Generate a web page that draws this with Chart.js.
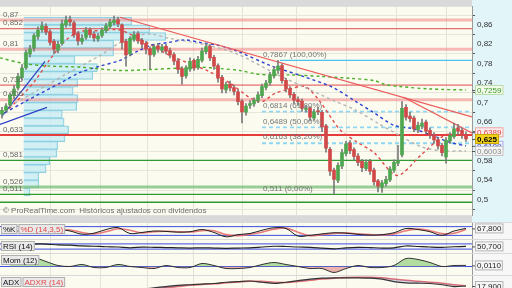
<!DOCTYPE html>
<html><head><meta charset="utf-8">
<script src="https://cdn.jsdelivr.net/npm/chart.js@4/dist/chart.umd.min.js"></script>
<style>
html,body{margin:0;padding:0;width:512px;height:288px;overflow:hidden;background:#d9d9d9}
.p{position:absolute;left:0;width:512px;overflow:hidden}
.p canvas{display:block}
</style></head><body>
<div class="p" style="top:0;height:222px"><canvas id="cm" width="512" height="222"></canvas></div>
<div class="p" style="top:223px;height:16px"><canvas id="ck" width="512" height="16"></canvas></div>
<div class="p" style="top:240px;height:13px"><canvas id="cr" width="512" height="13"></canvas></div>
<div class="p" style="top:254px;height:21px"><canvas id="cmo" width="512" height="21"></canvas></div>
<div class="p" style="top:276px;height:24px"><canvas id="ca" width="512" height="24"></canvas></div>
<script>
// ---------- DATA ----------
const open =[0.676,0.684,0.695,0.714,0.730,0.752,0.772,0.800,0.812,0.836,0.850,0.857,0.846,0.826,0.808,0.822,0.860,0.871,0.864,0.842,0.826,0.834,0.850,0.841,0.831,0.838,0.848,0.857,0.864,0.871,0.860,0.826,0.800,0.830,0.842,0.828,0.822,0.811,0.799,0.817,0.808,0.816,0.807,0.799,0.786,0.770,0.755,0.769,0.787,0.772,0.787,0.805,0.816,0.793,0.776,0.752,0.726,0.738,0.731,0.722,0.703,0.680,0.694,0.697,0.704,0.714,0.731,0.741,0.755,0.766,0.776,0.746,0.729,0.717,0.706,0.703,0.686,0.689,0.668,0.683,0.680,0.652,0.604,0.561,0.540,0.569,0.595,0.617,0.603,0.590,0.579,0.564,0.579,0.561,0.539,0.526,0.533,0.541,0.561,0.575,0.592,0.690,0.672,0.668,0.644,0.651,0.660,0.643,0.633,0.624,0.612,0.588,0.621,0.630,0.648,0.643,0.634];
const close=[0.684,0.693,0.716,0.728,0.754,0.771,0.803,0.810,0.838,0.849,0.858,0.845,0.824,0.810,0.820,0.862,0.870,0.866,0.840,0.827,0.832,0.849,0.840,0.833,0.837,0.849,0.858,0.866,0.870,0.862,0.824,0.798,0.832,0.840,0.827,0.820,0.810,0.798,0.815,0.810,0.815,0.806,0.798,0.785,0.768,0.754,0.771,0.785,0.771,0.789,0.806,0.815,0.792,0.775,0.750,0.728,0.737,0.730,0.723,0.702,0.681,0.693,0.698,0.705,0.716,0.733,0.740,0.757,0.768,0.775,0.745,0.728,0.716,0.705,0.702,0.688,0.688,0.670,0.681,0.681,0.650,0.606,0.559,0.542,0.571,0.597,0.615,0.601,0.589,0.577,0.566,0.577,0.559,0.537,0.528,0.535,0.542,0.563,0.577,0.580,0.688,0.670,0.667,0.646,0.653,0.658,0.641,0.632,0.623,0.611,0.597,0.623,0.632,0.646,0.641,0.632,0.625];
const high =[0.690,0.698,0.720,0.735,0.760,0.778,0.808,0.818,0.842,0.856,0.866,0.862,0.850,0.830,0.826,0.870,0.878,0.878,0.868,0.846,0.840,0.855,0.854,0.846,0.842,0.854,0.863,0.872,0.878,0.876,0.862,0.830,0.836,0.846,0.846,0.832,0.826,0.815,0.820,0.822,0.820,0.820,0.812,0.803,0.790,0.774,0.776,0.792,0.790,0.795,0.812,0.822,0.820,0.797,0.780,0.756,0.742,0.744,0.736,0.727,0.706,0.698,0.704,0.710,0.722,0.738,0.746,0.762,0.774,0.787,0.780,0.750,0.733,0.721,0.712,0.707,0.694,0.692,0.686,0.690,0.684,0.655,0.608,0.565,0.576,0.604,0.620,0.622,0.607,0.595,0.583,0.582,0.583,0.565,0.542,0.540,0.548,0.568,0.582,0.612,0.702,0.696,0.680,0.672,0.660,0.666,0.664,0.648,0.638,0.628,0.616,0.628,0.638,0.658,0.655,0.648,0.640];
const low  =[0.668,0.680,0.690,0.708,0.726,0.746,0.768,0.794,0.806,0.830,0.845,0.840,0.818,0.800,0.802,0.818,0.855,0.858,0.834,0.818,0.820,0.830,0.834,0.826,0.826,0.834,0.844,0.852,0.860,0.856,0.810,0.775,0.796,0.826,0.822,0.812,0.800,0.770,0.795,0.804,0.803,0.800,0.792,0.778,0.760,0.738,0.750,0.764,0.766,0.768,0.783,0.800,0.786,0.768,0.742,0.720,0.720,0.724,0.716,0.695,0.658,0.674,0.688,0.692,0.700,0.710,0.726,0.736,0.750,0.760,0.740,0.722,0.710,0.698,0.694,0.682,0.680,0.662,0.664,0.675,0.640,0.598,0.550,0.511,0.535,0.564,0.590,0.595,0.582,0.570,0.558,0.560,0.552,0.530,0.516,0.515,0.528,0.537,0.556,0.570,0.588,0.664,0.660,0.640,0.638,0.646,0.636,0.626,0.616,0.604,0.590,0.575,0.616,0.626,0.634,0.626,0.620];

const gridIdx=[12,24.5,36.25,47.75,60.25,73.5,86,98.5,111];
const priceTicks=[0.5,0.52,0.54,0.56,0.58,0.6,0.62,0.64,0.66,0.68,0.7,0.72,0.74,0.76,0.78,0.8,0.82,0.84,0.86];

// volume by price
const vpPrice=[0.868,0.852,0.836,0.820,0.804,0.788,0.772,0.756,0.740,0.724,0.708,0.692,0.676,0.660,0.644,0.628,0.612,0.596,0.580,0.564,0.548,0.532,0.516];
const vpVol  =[120,140,158,100,100,57,82,77,60,55,60,59,43,45,50,46,38,37,29,25,17,17,7];

// horizontal support / resistance levels
const levelVals  =[0.87,0.852,0.81,0.736,0.706,0.633,0.581,0.526,0.511,0.4948];
const levelKinds =['zone','line','zone','line','zone','strong','green','gzone','green','green'];
const levelLabels=['0,87','0,852','0,81','0,736','0,706','0,633','0,581','0,526','0,511',''];

// fibonacci retracement
const fibVals=[0.7867,0.6814,0.6489,0.6163,0.511];
const fibPct =['100,00%','61,80%','50,00%','38,20%','0,00%'];
const fibStart=65;      // candle index where the retracement starts
const fibTopStart=69.5; // 100% line start

// moving averages (index, value)
const maGreen=[[-0.5,0.792],[5.75,0.780],[12,0.775],[19.5,0.773],[29.5,0.766],[37,0.768],[44.5,0.771],[49.5,0.773],[54.5,0.770],[59.5,0.766],[63.5,0.759],[67,0.757],[72,0.757],[79.5,0.754],[87,0.750],[93.25,0.745],[95.75,0.737],[99.5,0.733],[107,0.728],[116,0.7259]];
const maBlue=[[0.75,0.679],[5.75,0.702],[14.5,0.740],[19.5,0.762],[24.5,0.775],[29.5,0.787],[34,0.806],[37.25,0.818],[41.5,0.8235],[45.75,0.829],[49.75,0.8235],[54,0.818],[58.75,0.806],[67,0.7765],[75.25,0.754],[82.75,0.731],[88.5,0.702],[93,0.679],[98,0.653],[102.75,0.646],[107.75,0.632],[112,0.618],[116,0.6109]];
const maGray=[[2,0.693],[9.5,0.728],[17,0.763],[24.5,0.797],[29.5,0.8235],[33.25,0.837],[37.25,0.841],[42,0.832],[50.25,0.820],[58.5,0.801],[68.5,0.759],[75.25,0.733],[83.5,0.702],[88.5,0.684],[94.5,0.655],[99.5,0.632],[104.5,0.610],[109.5,0.601],[116,0.6003]];
const maRed=[[0.75,0.679],[4.5,0.710],[8.25,0.745],[12,0.789],[15.75,0.827],[19.5,0.846],[24.5,0.848],[29,0.850],[32,0.841],[37,0.820],[42,0.797],[47,0.780],[52,0.763],[57,0.740],[62,0.710],[65,0.702],[68.25,0.719],[72,0.728],[75.75,0.733],[79.5,0.702],[84.5,0.644],[88.5,0.620],[93,0.597],[98.75,0.550],[104.75,0.592],[110.5,0.632],[114,0.636]];

// trend lines (index, value)
const trendRed1=[[29.5,0.8757],[117.5,0.6704]];
const trendRed2=[[100.5,0.7104],[117.5,0.6374]];
const trendBlue1=[[0,0.672],[10.75,0.785]];
const trendBlue2=[[-0.5,0.655],[11.25,0.690]];

// right side value tags
const rightVals =[0.7259,0.6389,0.625,0.6109,0.6003];
const rightTexts=['0,7259','0,6389','0,625','0,6109','0,6003'];

// indicators (every third candle)
const indIdx=[2,5,8,11,14,17,20,23,26,29,32,35,38,41,44,47,50,53,56,59,62,65,68,71,74,77,80,83,86,89,92,95,98,101,104,107,110,113,116];
const stochK=[52,48,42,45,60,50,28,35,60,73,33,40,50,47,42,45,60,40,10,25,33,55,72,67,15,20,30,38,35,27,22,25,38,67,60,45,20,50,67.8];
const stochD=[50,50,45,43,52,57,40,30,45,65,55,37,45,48,45,43,52,52,25,18,28,42,62,70,42,18,25,33,37,30,25,23,30,52,63,52,32,35,60];
const rsi=[62,62,69,69,62,60,55,52,48,46,40,45,44,42,40,38,40,38,36,38,40,46,52,50,46,44,38,32,40,44,42,38,40,54,50,46,44,48,50.7];
const mom=[0.09,0.09,0.09,0.05,0.01,0.0,0.02,-0.01,-0.01,0.02,0.0,-0.01,-0.02,0.01,-0.01,-0.01,0.03,0.01,-0.02,-0.02,-0.01,0.02,0.04,0.02,0.0,-0.02,-0.02,-0.06,-0.02,0.01,-0.01,-0.01,0.01,0.08,0.07,0.04,0.0,0.01,0.011];
const adx=[5,5,5,5,5,5,5,5,5,5,6,8,12,16,20,22,24,26,30,32,34,30,26,30,35,40,43,44,44,44,43,40,32,28,27,26,22,16,17.9];
const adxr=[5,5,5,5,5,5,5,5,5,5,5,6,9,12,16,20,23,25,28,31,33,33,30,29,32,36,40,43,45,46,46,44,40,36,33,30,27,22,19];

// ---------- RENDER ----------
const FONT='"Liberation Sans", Arial, sans-serif';
const XMIN=-0.5, XMAX=117.5;
const fmtTick=v=>String(+v.toFixed(2)).replace('.',',');
const pts=a=>a.map(p=>({x:p[0],y:p[1]}));

const levelStyle={
  zone:{c:'rgba(240,130,130,0.55)',w:3},
  line:{c:'#dd4b4b',w:1},
  strong:{c:'#e83c3c',w:2},
  green:{c:'#2f9a2f',w:1.3},
  gzone:{c:'rgba(120,190,120,0.75)',w:3}
};

const idx=close.map((_,i)=>i);
const ds=[];
// candles
ds.push({type:'bar',data:idx.map(i=>({x:i,y:[open[i],close[i]]})),
  backgroundColor:idx.map(i=>close[i]>=open[i]?'#4ea64e':'#d04848'),
  borderColor:idx.map(i=>close[i]>=open[i]?'#3b7e3b':'#a83a3a'),borderWidth:0,
  barThickness:3,grouped:false,order:1});
ds.push({type:'bar',data:idx.map(i=>({x:i,y:[low[i],high[i]]})),
  backgroundColor:'#7a7a7a',barThickness:1,grouped:false,order:2});
// trend lines
[[trendRed1,'#ec5a5a'],[trendRed2,'#ec5a5a'],[trendBlue1,'#2b3fc4'],[trendBlue2,'#2b3fc4']].forEach(([d,c])=>
  ds.push({type:'line',data:pts(d),borderColor:c,borderWidth:1.2,pointRadius:0,order:5}));
// moving averages
[[maGreen,'#4caf2a'],[maBlue,'#2d3fd0'],[maGray,'#b4b4b4'],[maRed,'#e04a4a']].forEach(([d,c])=>
  ds.push({type:'line',data:pts(d),borderColor:c,borderWidth:1.4,borderDash:[3,3],pointRadius:0,tension:0.3,order:6}));
// fibonacci
fibVals.forEach((v,k)=>{
  if(k===4) return;
  if(k===0) ds.push({type:'line',data:[{x:fibTopStart,y:v},{x:XMAX,y:v}],borderColor:'#4cc3ef',borderWidth:1.3,pointRadius:0,order:7});
  else ds.push({type:'line',data:[{x:fibStart,y:v},{x:XMAX,y:v}],borderColor:'#8fd6f2',borderWidth:1.8,borderDash:[4,3],pointRadius:0,order:7});
});
// levels
levelVals.forEach((v,k)=>{const s=levelStyle[levelKinds[k]];
  ds.push({type:'line',data:[{x:XMIN,y:v},{x:XMAX,y:v}],borderColor:s.c,borderWidth:s.w,pointRadius:0,order:8});});
// volume profile
ds.push({type:'bar',indexAxis:'y',xAxisID:'xv',yAxisID:'y',data:vpPrice.map((p,k)=>({x:vpVol[k],y:p})),
  backgroundColor:'rgba(196,236,244,0.75)',borderColor:'#8ccfdf',borderWidth:1,barThickness:8,grouped:false,order:20});

function drawTag(ctx,x,y,text,color,bg,border,bold){
  ctx.font=(bold?'bold ':'')+'8px '+FONT;
  const w=ctx.measureText(text).width+4;
  ctx.fillStyle=bg;ctx.fillRect(x,y-5,w,10);
  ctx.strokeStyle=border;ctx.lineWidth=1;ctx.strokeRect(x+0.5,y-4.5,w-1,9);
  ctx.fillStyle=color;ctx.textBaseline='middle';ctx.textAlign='left';ctx.fillText(text,x+2,y+0.5);
}

const mainDeco={id:'mainDeco',
  beforeDraw(c){const {ctx,chartArea:a,width,height}=c;ctx.save();
    ctx.fillStyle='#fbfbf0';ctx.fillRect(a.left,a.top,a.right-a.left,a.bottom-a.top);
    ctx.fillStyle='#e2f5f9';ctx.fillRect(a.right,0,width-a.right,height);ctx.restore();},
  afterDatasetsDraw(c){const {ctx,chartArea:a}=c;const ys=c.scales.y,xs=c.scales.x;ctx.save();
    ctx.font='8px '+FONT;ctx.fillStyle='#6a6a6a';ctx.textBaseline='bottom';ctx.textAlign='left';
    levelVals.forEach((v,k)=>{if(levelLabels[k])ctx.fillText(levelLabels[k],a.left+3,ys.getPixelForValue(v)-1.5);});
    ctx.fillStyle='#777';
    fibVals.forEach((v,k)=>{ctx.fillText(String(v).replace('.',',')+' ('+fibPct[k]+')',xs.getPixelForValue(fibStart+0.25),ys.getPixelForValue(v)-2);});
    ctx.fillStyle='#6e6e6e';ctx.fillText('\u00A9 ProRealTime.com  Hist\u00F3ricos ajustados con dividendos',a.left+3,a.bottom);
    ctx.restore();},
  afterDraw(c){const {ctx,chartArea:a}=c;const ys=c.scales.y;ctx.save();
    const st=[['#3a9a2a','#f3faea','#b9dca8',false],['#e04040','#fdeaea','#e9a9a9',false],['#000','#f2d21c','#c9a800',true],['#2b3fc4','#eceefc','#a9b0e6',false],['#8a8a8a','#f4f4f4','#c4c4c4',false]];
    [1,0,3,4,2].forEach(k=>{const y=ys.getPixelForValue(rightVals[k]);const s=st[k];
      ctx.strokeStyle='#555';ctx.beginPath();ctx.moveTo(a.right,y+0.5);ctx.lineTo(a.right+3,y+0.5);ctx.stroke();
      drawTag(ctx,a.right+3,y,rightTexts[k],s[0],s[1],s[2],s[3]);});
    ctx.restore();}
};

new Chart(document.getElementById('cm'),{type:'bar',data:{datasets:ds},
  options:{responsive:false,animation:false,events:[],
    layout:{padding:0},
    plugins:{legend:{display:false},tooltip:{enabled:false}},
    scales:{
      x:{type:'linear',min:XMIN,max:XMAX,offset:false,
        afterBuildTicks:s=>{s.ticks=gridIdx.map(v=>({value:v}));},
        ticks:{display:false},grid:{color:'#e3e3d6',drawTicks:false,offset:false},border:{display:false},
        afterFit:s=>{s.height=0;}},
      xv:{type:'linear',min:0,max:472,display:false},
      y:{type:'linear',position:'right',min:0.4896,max:0.8757,
        afterBuildTicks:s=>{s.ticks=priceTicks.map(v=>({value:v}));},
        ticks:{font:{size:8,family:FONT},color:'#333',padding:2,callback:v=>fmtTick(v)},
        grid:{color:'#e6e6da',tickColor:'#555',tickLength:3,drawTicks:true},
        border:{color:'#9a9a9a'},
        afterFit:s=>{s.width=40;}}
    }},plugins:[mainDeco]});

// ---------- sub panels ----------
function subPanel(id,ymin,ymax,datasets,labels,tagVal,tagText){
  const deco={id:'d'+id,
    beforeDraw(c){const {ctx,chartArea:a,width,height}=c;ctx.save();
      ctx.fillStyle='#fbfbf0';ctx.fillRect(a.left,a.top,a.right-a.left,a.bottom-a.top);
      ctx.fillStyle='#f7f7f7';ctx.fillRect(a.right,0,width-a.right,height);ctx.restore();},
    afterDraw(c){const {ctx,chartArea:a}=c;ctx.save();
      let x=a.left+1;
      labels.forEach(([t,col])=>{ctx.font='8px '+FONT;const w=ctx.measureText(t).width+4;
        ctx.fillStyle='#e9e9e9';ctx.fillRect(x,a.top+1,w,10);ctx.strokeStyle='#b0b0b0';ctx.strokeRect(x+0.5,a.top+1.5,w-1,9);
        ctx.fillStyle=col;ctx.textBaseline='middle';ctx.textAlign='left';ctx.fillText(t,x+2,a.top+6.5);x+=w+1;});
      const y=c.scales.y.getPixelForValue(tagVal);
      ctx.strokeStyle='#555';ctx.beginPath();ctx.moveTo(a.right,y+0.5);ctx.lineTo(a.right+3,y+0.5);ctx.stroke();
      drawTag(ctx,a.right+3,y,tagText,'#222','#f6f6f6','#b5b5b5',false);
      ctx.restore();}};
  new Chart(document.getElementById(id),{type:'line',data:{datasets},
    options:{responsive:false,animation:false,events:[],layout:{padding:0},
      plugins:{legend:{display:false},tooltip:{enabled:false}},
      scales:{
        x:{type:'linear',min:XMIN,max:XMAX,
          afterBuildTicks:s=>{s.ticks=gridIdx.map(v=>({value:v}));},
          ticks:{display:false},grid:{color:'#e3e3d6',drawTicks:false},border:{display:false},afterFit:s=>{s.height=0;}},
        y:{type:'linear',position:'right',min:ymin,max:ymax,ticks:{display:false},grid:{display:false},
          border:{color:'#9a9a9a'},afterFit:s=>{s.width=40;}}
      }},plugins:[deco]});
}
const ser=a=>indIdx.map((x,k)=>({x,y:a[k]}));
const hline=(v,c)=>({data:[{x:XMIN,y:v},{x:XMAX,y:v}],borderColor:c,borderWidth:1,pointRadius:0});
const fm=v=>v.toFixed(3).replace('.',',');

subPanel('ck',-5,105,[
  {data:ser(stochK),borderColor:'#222',borderWidth:1,pointRadius:0,tension:0.35},
  {data:ser(stochD),borderColor:'rgba(228,110,110,0.9)',borderWidth:1.6,pointRadius:0,tension:0.35},
  hline(80,'#3a4ee0'),hline(20,'#3a4ee0')],
  [['%K','#111'],['%D (14,3,5)','#e04848']],stochK[stochK.length-1],fm(stochK[stochK.length-1]));

subPanel('cr',0,100,[
  {data:ser(rsi),borderColor:'#222',borderWidth:1.2,pointRadius:0,tension:0.3},
  hline(70,'#3a4ee0'),hline(30,'#3a4ee0')],
  [['RSI (14)','#111']],rsi[rsi.length-1],fm(rsi[rsi.length-1]));

subPanel('cmo',-0.085,0.125,[
  {data:ser(mom),borderColor:'#333',borderWidth:1,pointRadius:0,tension:0.3,
   fill:{target:'origin',above:'rgba(120,195,95,0.55)',below:'rgba(225,120,120,0.55)'}},
  hline(0,'#3a4ee0')],
  [['Mom (12)','#111']],mom[mom.length-1],mom[mom.length-1].toFixed(4).replace('.',','));

subPanel('ca',-27,50,[
  {data:ser(adx),borderColor:'#333',borderWidth:1.2,pointRadius:0,tension:0.3,
   fill:{target:1,above:'rgba(110,110,200,0.45)',below:'rgba(110,110,200,0.25)'}},
  {data:ser(adxr),borderColor:'rgba(225,95,95,0.9)',borderWidth:1.5,pointRadius:0,tension:0.3}],
  [['ADX','#111'],['ADXR (14)','#e04848']],adx[adx.length-1],fm(adx[adx.length-1]));
</script>
</body></html>
